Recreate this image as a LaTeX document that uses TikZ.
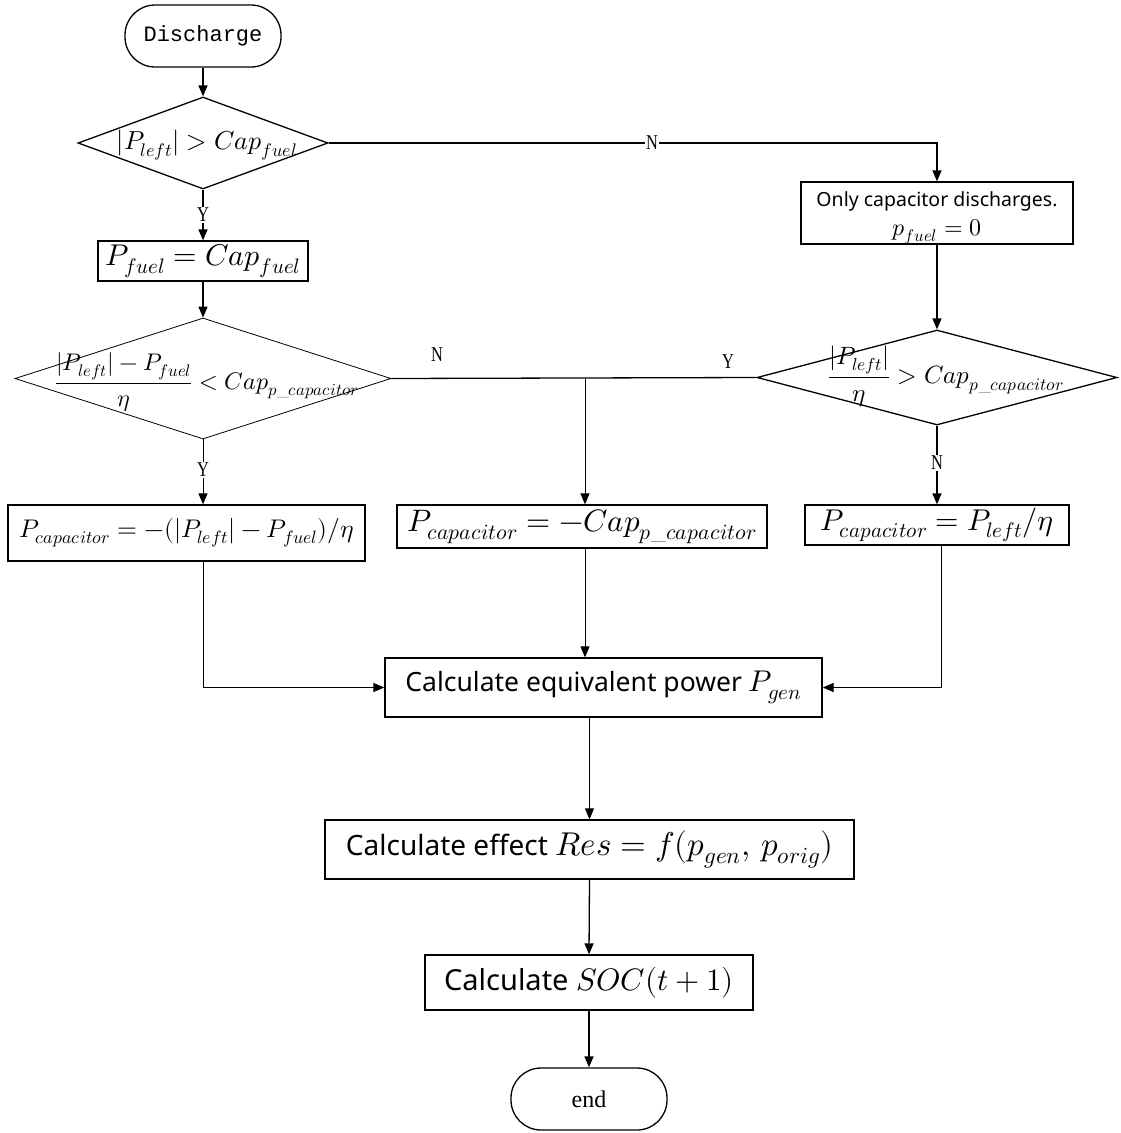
\documentclass[tikz,border=0pt]{standalone}
\usepackage{fontspec}
\usepackage{unicode-math}
\setmathfont{Latin Modern Math}
\newfontfamily\boxfont{Noto Sans}
\newfontfamily\labfont{Liberation Serif}
\newfontfamily\termfont{Liberation Mono}
\usetikzlibrary{arrows.meta,shapes.geometric,calc}
\newcommand{\fs}[1]{\fontsize{#1}{#1}\selectfont}
\begin{document}
\begin{tikzpicture}[x=1pt,y=-1pt,
  line width=1.3pt,
  arr/.style={-{Triangle[length=11pt,width=9pt]}},
  thin line/.style={line width=1pt},
  procbox/.style={draw,rectangle,inner sep=0pt,align=center},
  termbox/.style={draw,rectangle,rounded corners=30pt,minimum width=156pt,minimum height=62pt,inner sep=0pt},
  decbox/.style={draw,diamond,inner sep=0pt},
  yn/.style={font=\labfont\fs{21}\addfontfeature{FakeStretch=0.78},inner sep=1pt,fill=white}
]
\useasboundingbox (0,0) rectangle (1120,1133);

% nodes
\node[termbox,font=\termfont\fs{22}] (start) at (203,36) {Discharge};
\node[decbox,minimum width=250pt,minimum height=92pt] (d1) at (203,143) {};
\node[font=\fs{26}] (d1t) at (207,145) {$\lvert P_{left}\rvert > Cap_{fuel}$};

\node[procbox,minimum width=210pt,minimum height=40pt,font=\fs{30}] (b1) at (203,261) {$P_{fuel}=Cap_{fuel}$};

\node[decbox,line width=0.8pt,minimum width=376pt,minimum height=121pt] (d2) at (203,378.5) {};
\node[font=\fs{24}] (d2t) at (207,382) {$\dfrac{\lvert P_{left}\rvert - P_{fuel}}{\mupeta} < Cap_{p\_capacitor}$};

\node[procbox,minimum width=272pt,minimum height=62pt] (b2) at (937,213) {};
\node[align=center,inner sep=0pt,font=\boxfont\fontsize{19.5}{29}\selectfont] (b2t) at (937,218) {Only capacitor discharges.\\{\fs{24}$p_{fuel}=0$}};

\node[decbox,minimum width=360pt,minimum height=95pt] (d3) at (937,377.5) {};
\node[font=\fs{25}] (d3t) at (946,376) {$\dfrac{\lvert P_{left}\rvert}{\mupeta} > Cap_{p\_capacitor}$};

\node[procbox,minimum width=357pt,minimum height=56pt,font=\fs{25.5}] (b4) at (186.5,533) {$P_{capacitor}=-(\lvert P_{left}\rvert-P_{fuel})/\mupeta$};
\node[procbox,minimum width=370pt,minimum height=43pt,font=\fs{31}] (b5) at (582,526.5) {$P_{capacitor}=-Cap_{p\_capacitor}$};
\node[procbox,minimum width=264pt,minimum height=40pt,font=\fs{30}] (b6) at (937,525) {$P_{capacitor}=P_{left}/\mupeta$};

\node[procbox,minimum width=437pt,minimum height=59pt,font=\boxfont\fs{26.5}] (b7) at (603.5,687.5) {Calculate equivalent power {\fs{30}$P_{gen}$}};
\node[procbox,minimum width=529pt,minimum height=59pt,font=\boxfont\fs{28}] (b8) at (589.5,849.5) {Calculate effect {\fs{33}$Res=f(p_{gen},\,p_{orig})$}};
\node[procbox,minimum width=328pt,minimum height=55pt,font=\boxfont\fs{29}] (b9) at (589,982.5) {Calculate {\fs{31}$SOC(t+1)$}};
\node[termbox,font=\labfont\fs{24}] (end) at (589,1099) {end};

% connectors
\draw[arr] (start) -- (d1);
\draw[arr] (d1.east) -| (b2.north);
\node[yn] (n1) at (652,143) {N};
\draw[arr] (d1.south) -- (b1.north);
\node[yn] (y1) at (203,215) {Y};
\draw[arr] (b1.south) -- (d2.north);

\coordinate (j) at (585,378.5);
\draw (d2.east) -- (d3.west);
\draw[arr,thin line] (j) -- (j |- b5.north);
\node[yn,fill=none] (n2) at (437,355) {N};
\node[yn,fill=none] (y2) at (728,362) {Y};

\draw[arr,thin line] (d2.south) -- (d2.south |- b4.north);
\node[yn] (y3) at (203,470) {Y};

\draw[arr] (b2.south) -- (d3.north);
\draw[arr] (d3.south) -- (b6.north);
\node[yn] (n3) at (937,463) {N};

\draw[arr,thin line] (d2.south |- b4.south) |- (b7.west);
\draw[arr,thin line] (j |- b5.south) -- (j |- b7.north);
\draw[arr,thin line] ($(b6.south)+(4,0)$) |- (b7.east);
\draw[arr,thin line] (b8.north |- b7.south) -- (b8.north);
\draw[arr] (b8.south) -- (b9.north);
\draw[arr] (b9.south) -- (end.north);
\end{tikzpicture}
\end{document}
